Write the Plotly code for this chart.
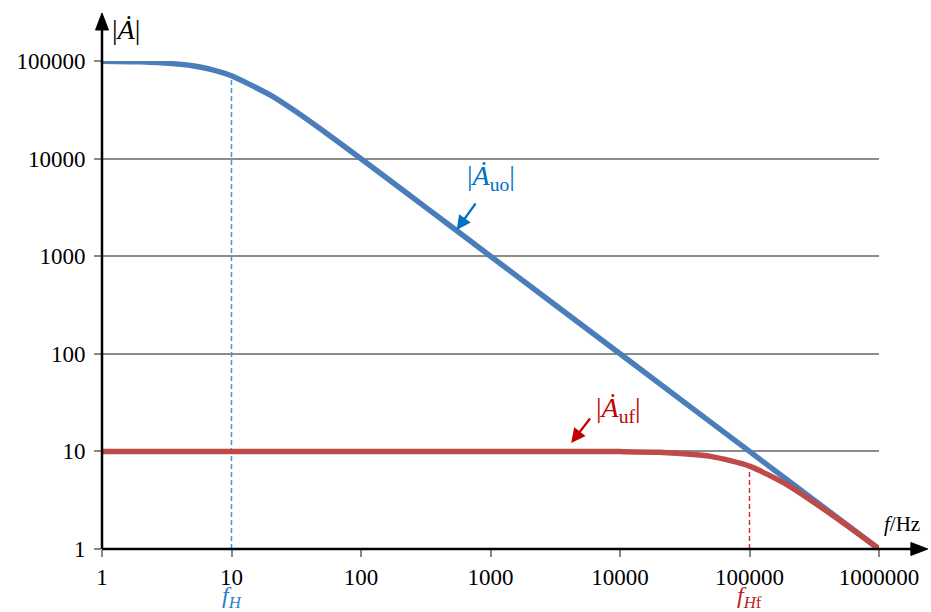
import plotly.graph_objects as go

# Data
freq_uo = [1, 2, 5, 8, 10, 20, 30, 50, 100, 200, 500, 1000, 10000, 100000, 1000000]
gain_uo = [99500, 98000, 89400, 78000, 70700, 44700, 31600, 19600, 9950, 5000, 2000, 1000, 100, 10, 1]

freq_uf = [1, 10, 100, 1000, 5000, 10000, 20000, 50000, 100000, 200000, 500000, 1000000]
gain_uf = [10, 10, 10, 10, 9.99, 9.95, 9.8, 8.9, 7.07, 4.47, 1.96, 1.0]

fH = 10
fH_gain = 70700
fHf = 100000
fHf_gain = 7.07

x_ticks = [1, 10, 100, 1000, 10000, 100000, 1000000]
x_tick_labels = ["1", "10", "100", "1000", "10000", "100000", "1000000"]
y_ticks = [1, 10, 100, 1000, 10000, 100000]
y_tick_labels = ["1", "10", "100", "1000", "10000", "100000"]

BLUE = "#4A7EBB"
RED = "#BE4B48"
SERIF = "Liberation Serif, Times New Roman, serif"

fig = go.Figure()

# dashed marker lines
fig.add_trace(go.Scatter(x=[fH, fH], y=[1, fH_gain], mode="lines",
                         line=dict(color="#3A96DE", width=1.5, dash="5px,3px"),
                         hoverinfo="skip", showlegend=False))
fig.add_trace(go.Scatter(x=[fHf, fHf], y=[1, fHf_gain], mode="lines",
                         line=dict(color="#DC2A36", width=1.5, dash="5px,3px"),
                         hoverinfo="skip", showlegend=False))

fig.add_trace(go.Scatter(x=freq_uo, y=gain_uo, mode="lines",
                         line=dict(color=BLUE, width=5.5, shape="spline", smoothing=0.6),
                         cliponaxis=False, showlegend=False))
fig.add_trace(go.Scatter(x=freq_uf, y=gain_uf, mode="lines",
                         line=dict(color=RED, width=5.5, shape="spline", smoothing=0.6),
                         cliponaxis=False, showlegend=False))

fig.update_xaxes(type="log", range=[0, 6], tickvals=x_ticks, ticktext=x_tick_labels,
                 showgrid=False, zeroline=False,
                 showline=False, ticks="outside", ticklen=7, tickwidth=1.5, tickcolor="#888888",
                 tickfont=dict(family=SERIF, size=23, color="black"))
fig.update_yaxes(type="log", range=[0, 5], tickvals=y_ticks, ticktext=y_tick_labels,
                 showgrid=True, gridcolor="#8C8C8C", gridwidth=2, zeroline=False,
                 showline=False, ticks="outside", ticklen=7, tickwidth=1.5, tickcolor="#888888",
                 ticklabelstandoff=4,
                 tickfont=dict(family=SERIF, size=23, color="black"))

W, H = 931, 612
L, R, T, B = 102, 49, 61, 63
pw, ph = W - L - R, H - T - B

def px(xp):
    return (xp - L) / pw

def py(yp):
    return (H - B - yp) / ph

shapes = []
# y axis line + arrow
shapes.append(dict(type="line", xref="paper", yref="paper", x0=0, x1=0, y0=0, y1=py(26),
                   line=dict(color="black", width=2.5)))
shapes.append(dict(type="path", xref="paper", yref="paper",
                   path=f"M {px(95.5)} {py(30)} L {px(108.5)} {py(30)} L {px(102)} {py(13)} Z",
                   fillcolor="black", line=dict(color="black", width=1)))
# x axis line + arrow
shapes.append(dict(type="line", xref="paper", yref="paper", x0=0, x1=px(918), y0=0, y1=0,
                   line=dict(color="black", width=2.5)))
shapes.append(dict(type="path", xref="paper", yref="paper",
                   path=f"M {px(914)} {py(542.5)} L {px(914)} {py(555.5)} L {px(931)} {py(549)} Z",
                   fillcolor="black", line=dict(color="black", width=1)))
fig.update_layout(shapes=shapes)

ann = []
ann.append(dict(xref="paper", yref="paper", x=px(110), y=py(30), xanchor="left", yanchor="middle",
                text="|<i>Ȧ</i>|", showarrow=False, font=dict(family=SERIF, size=28, color="black")))
ann.append(dict(xref="paper", yref="paper", x=px(905), y=py(524), xanchor="center", yanchor="middle",
                text="<i>f</i>/Hz", showarrow=False, font=dict(family=SERIF, size=21, color="black")))
ann.append(dict(x=1, yref="paper", y=py(597), xanchor="center", yanchor="middle",
                text="<i>f<sub>H</sub></i>", showarrow=False,
                font=dict(family=SERIF, size=24, color="#2E7FC8")))
ann.append(dict(x=5, yref="paper", y=py(597), xanchor="center", yanchor="middle",
                text="<i>f<sub>H</sub></i><sub>f</sub>", showarrow=False,
                font=dict(family=SERIF, size=24, color="#C0202A")))
# curve labels
ann.append(dict(xref="paper", yref="paper", x=px(493), y=py(177), xanchor="center", yanchor="middle",
                text="|<i>Ȧ</i><sub>uo</sub>|", showarrow=False,
                font=dict(family=SERIF, size=28, color="#0070C0")))
ann.append(dict(xref="paper", yref="paper", x=px(620), y=py(409), xanchor="center", yanchor="middle",
                text="|<i>Ȧ</i><sub>uf</sub>|", showarrow=False,
                font=dict(family=SERIF, size=28, color="#C00000")))
# arrows
ann.append(dict(xref="paper", yref="paper", x=px(458), y=py(230), ax=20, ay=-28, text="",
                showarrow=True, arrowhead=2, arrowsize=1.3, arrowwidth=2.2, arrowcolor="#0070C0"))
ann.append(dict(xref="paper", yref="paper", x=px(573), y=py(443), ax=20, ay=-26, text="",
                showarrow=True, arrowhead=2, arrowsize=1.3, arrowwidth=2.2, arrowcolor="#C00000"))
fig.update_layout(annotations=ann)

fig.update_layout(width=W, height=H, margin=dict(l=L, r=R, t=T, b=B, pad=0),
                  plot_bgcolor="white", paper_bgcolor="white")

fig.write_html("out.html", config={"displayModeBar": False},
               post_script="document.body.style.margin='0';document.body.style.overflow='hidden';")
